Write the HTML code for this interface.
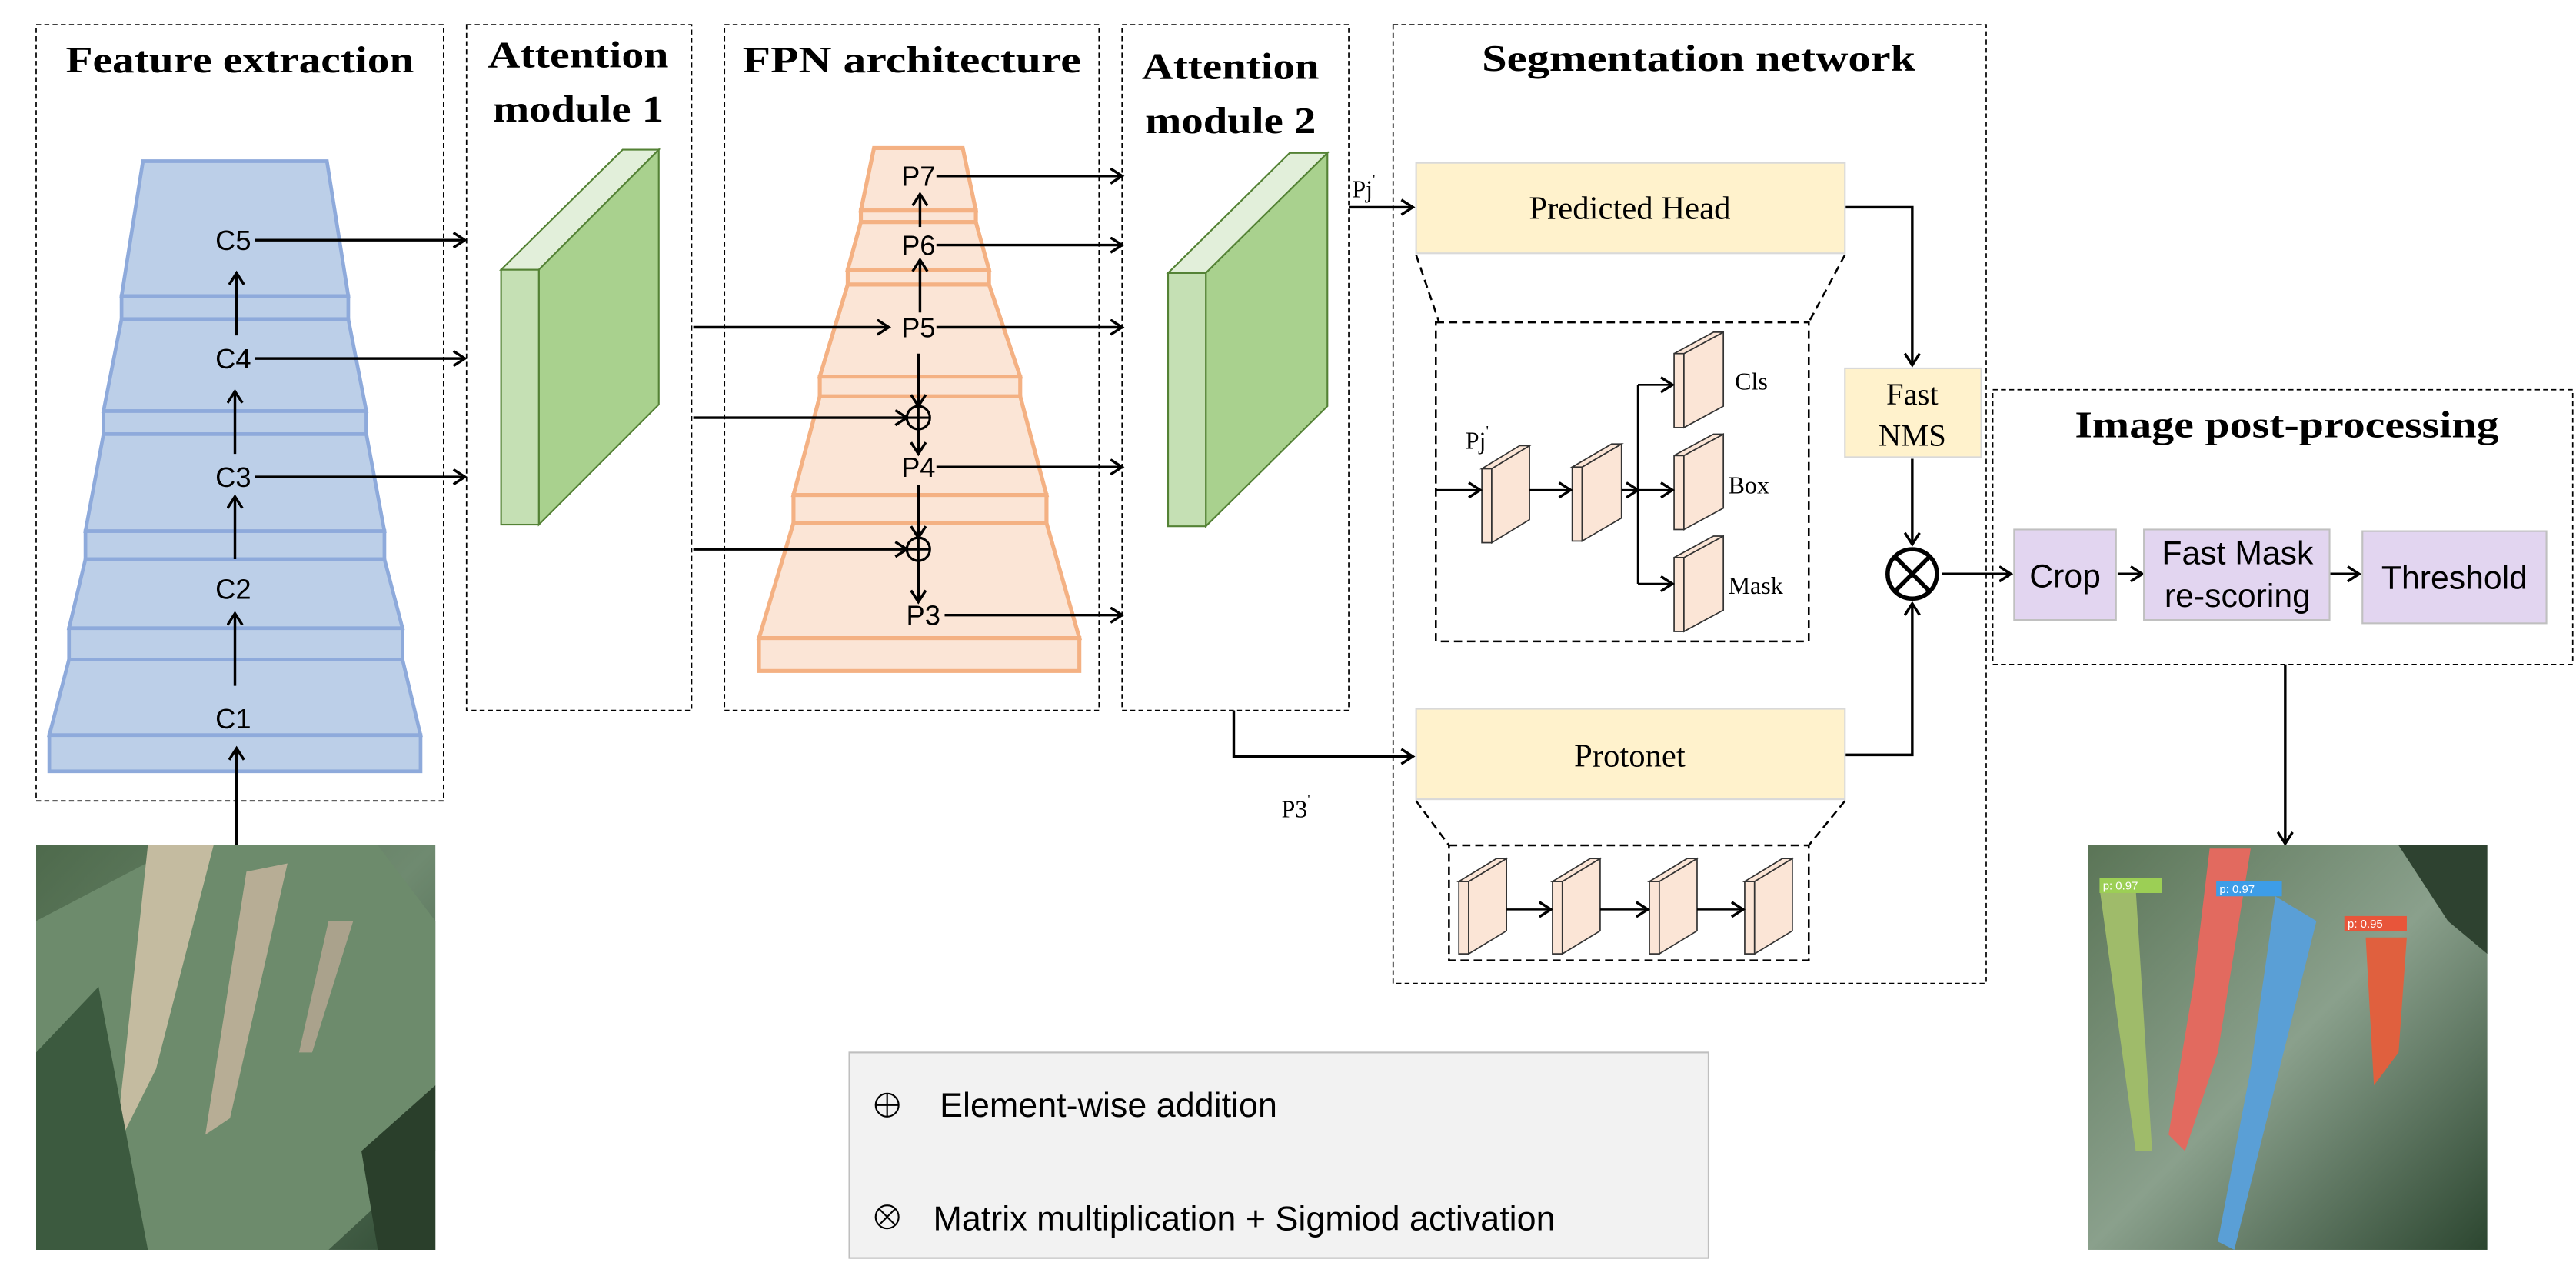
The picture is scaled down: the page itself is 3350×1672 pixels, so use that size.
<!DOCTYPE html>
<html><head><meta charset="utf-8"><style>
html,body{margin:0;padding:0;background:#fff;}
svg{display:block;}
.ttl{font-family:"Liberation Serif",serif;font-weight:bold;font-size:23px;}
.cl{font-family:"Liberation Sans Narrow","Liberation Sans",sans-serif;font-size:17px;}
.sf{font-family:"Liberation Serif",serif;}
.ss{font-family:"Liberation Sans Narrow","Liberation Sans",sans-serif;}
</style></head><body>
<svg width="3350" height="1672" viewBox="0 0 1568 782" preserveAspectRatio="none" xmlns="http://www.w3.org/2000/svg">
<defs>
<marker id="a" markerUnits="userSpaceOnUse" markerWidth="12" markerHeight="12" refX="8" refY="5" orient="auto"><path d="M1,0.5 L8,5 L1,9.5" fill="none" stroke="#000" stroke-width="1.6"/></marker>
<linearGradient id="lg1" x1="0" y1="0" x2="1" y2="1"><stop offset="0" stop-color="#4e6a4c"/><stop offset="0.5" stop-color="#6f8a70"/><stop offset="1" stop-color="#2f4a33"/></linearGradient>
<linearGradient id="lg2" x1="0" y1="0" x2="1" y2="1"><stop offset="0" stop-color="#5b7557"/><stop offset="0.5" stop-color="#8aa08c"/><stop offset="1" stop-color="#2c4630"/></linearGradient>
</defs>

<!-- dashed module boxes -->
<g fill="none" stroke="#000" stroke-width="0.8" stroke-dasharray="3,2">
<rect x="22" y="15" width="248" height="472"/>
<rect x="284" y="15" width="137" height="417"/>
<rect x="441" y="15" width="228" height="417"/>
<rect x="683" y="15" width="138" height="417"/>
<rect x="848" y="15" width="361" height="583"/>
<rect x="1213" y="237" width="353" height="167"/>
</g>

<!-- titles -->
<text class="ttl" x="146" y="44" text-anchor="middle" textLength="212" lengthAdjust="spacingAndGlyphs">Feature extraction</text>
<text class="ttl" x="352" y="41" text-anchor="middle" textLength="110" lengthAdjust="spacingAndGlyphs">Attention</text>
<text class="ttl" x="352" y="74" text-anchor="middle" textLength="104" lengthAdjust="spacingAndGlyphs">module 1</text>
<text class="ttl" x="555" y="44" text-anchor="middle" textLength="206" lengthAdjust="spacingAndGlyphs">FPN architecture</text>
<text class="ttl" x="749" y="48" text-anchor="middle" textLength="108" lengthAdjust="spacingAndGlyphs">Attention</text>
<text class="ttl" x="749" y="81" text-anchor="middle" textLength="104" lengthAdjust="spacingAndGlyphs">module 2</text>
<text class="ttl" x="1034" y="43" text-anchor="middle" textLength="264" lengthAdjust="spacingAndGlyphs">Segmentation network</text>
<text class="ttl" x="1392" y="266" text-anchor="middle" textLength="258" lengthAdjust="spacingAndGlyphs">Image post-processing</text>

<!-- blue pyramid -->
<g fill="#bccfe8" stroke="#8eaadb" stroke-width="2.2">
<polygon points="87,98 199,98 212,180 74,180"/><rect x="74" y="180" width="138" height="14"/>
<polygon points="74,194 212,194 223,250 63,250"/><rect x="63" y="250" width="160" height="14"/>
<polygon points="63,264 223,264 234,323 52,323"/><rect x="52" y="323" width="182" height="17"/>
<polygon points="52,340 234,340 245,382 42,382"/><rect x="42" y="382" width="203" height="19"/>
<polygon points="42,401 245,401 256,447 30,447"/><rect x="30" y="447" width="226" height="22"/>
</g>
<g class="cl" text-anchor="middle">
<text x="142" y="152">C5</text><text x="142" y="224">C4</text><text x="142" y="296">C3</text><text x="142" y="364">C2</text><text x="142" y="443">C1</text>
</g>
<g stroke="#000" stroke-width="1.6" fill="none" marker-end="url(#a)">
<line x1="144" y1="514" x2="144" y2="455"/>
<line x1="143" y1="417" x2="143" y2="373"/>
<line x1="143" y1="340" x2="143" y2="302"/>
<line x1="143" y1="276" x2="143" y2="238"/>
<line x1="144" y1="204" x2="144" y2="166"/>
<line x1="155" y1="146" x2="283" y2="146"/>
<line x1="155" y1="218" x2="283" y2="218"/>
<line x1="155" y1="290" x2="283" y2="290"/>
</g>

<!-- attention blocks -->
<g stroke="#548235" stroke-width="1">
<polygon points="305,164 379,91 401,91 328,164" fill="#e2efda"/>
<polygon points="328,164 401,91 401,246 328,319" fill="#a9d18e"/>
<rect x="305" y="164" width="23" height="155" fill="#c5e0b4"/>
<polygon points="711,166 785,93 808,93 734,166" fill="#e2efda"/>
<polygon points="734,166 808,93 808,247 734,320" fill="#a9d18e"/>
<rect x="711" y="166" width="23" height="154" fill="#c5e0b4"/>
</g>

<!-- orange pyramid -->
<g fill="#fbe5d6" stroke="#f4b183" stroke-width="2.4">
<polygon points="532,90 586,90 594,128 524,128"/><rect x="524" y="128" width="70" height="7"/>
<polygon points="524,135 594,135 602,164 516,164"/><rect x="516" y="164" width="86" height="9"/>
<polygon points="516,173 602,173 621,229 499,229"/><rect x="499" y="229" width="122" height="12"/>
<polygon points="499,241 621,241 637,301 483,301"/><rect x="483" y="301" width="154" height="17"/>
<polygon points="483,318 637,318 657,388 462,388"/><rect x="462" y="388" width="195" height="20"/>
</g>
<g class="cl" text-anchor="middle">
<text x="559" y="113">P7</text><text x="559" y="155">P6</text><text x="559" y="205">P5</text><text x="559" y="290">P4</text><text x="562" y="380">P3</text>
</g>
<g fill="none" stroke="#000" stroke-width="1.5">
<circle cx="559" cy="254" r="7"/><line x1="552" y1="254" x2="566" y2="254"/><line x1="559" y1="247" x2="559" y2="261"/>
<circle cx="559" cy="334" r="7"/><line x1="552" y1="334" x2="566" y2="334"/><line x1="559" y1="327" x2="559" y2="341"/>
</g>
<g stroke="#000" stroke-width="1.6" fill="none" marker-end="url(#a)">
<line x1="570" y1="107" x2="683" y2="107"/>
<line x1="570" y1="149" x2="683" y2="149"/>
<line x1="570" y1="199" x2="683" y2="199"/>
<line x1="570" y1="284" x2="683" y2="284"/>
<line x1="575" y1="374" x2="683" y2="374"/>
<line x1="422" y1="199" x2="541" y2="199"/>
<line x1="422" y1="254" x2="552" y2="254"/>
<line x1="422" y1="334" x2="552" y2="334"/>
<line x1="560" y1="138" x2="560" y2="118"/>
<line x1="560" y1="190" x2="560" y2="158"/>
<line x1="559" y1="215" x2="559" y2="247"/>
<line x1="559" y1="261" x2="559" y2="276"/>
<line x1="559" y1="295" x2="559" y2="327"/>
<line x1="559" y1="341" x2="559" y2="366"/>
<line x1="821" y1="126" x2="860" y2="126"/>
<polyline points="751,432 751,460 860,460"/>
<polyline points="1123,126 1164,126 1164,222"/>
<line x1="1164" y1="279" x2="1164" y2="331"/>
<polyline points="1123,459 1164,459 1164,367"/>
<line x1="1182" y1="349" x2="1224" y2="349"/>
<line x1="1289" y1="349" x2="1304" y2="349"/>
<line x1="1418" y1="349" x2="1436" y2="349"/>
<line x1="1391" y1="404" x2="1391" y2="513"/>
</g>
<text class="sf" x="823" y="120" font-size="15">Pj<tspan font-size="9" dy="-8">'</tspan></text>
<text class="sf" x="780" y="497" font-size="15">P3<tspan font-size="9" dy="-8">'</tspan></text>

<!-- segmentation boxes -->
<g fill="#fff2cc" stroke="#d9d9d9" stroke-width="1">
<rect x="862" y="99" width="261" height="55"/>
<rect x="862" y="431" width="261" height="55"/>
<rect x="1123" y="224" width="83" height="54"/>
</g>
<text class="sf" x="992" y="133" font-size="20" text-anchor="middle">Predicted Head</text>
<text class="sf" x="992" y="466" font-size="20" text-anchor="middle">Protonet</text>
<text class="sf" x="1164" y="246" font-size="19" text-anchor="middle">Fast</text>
<text class="sf" x="1164" y="271" font-size="19" text-anchor="middle">NMS</text>
<g fill="none" stroke="#000" stroke-width="2.6">
<circle cx="1164" cy="349" r="15"/><line x1="1154" y1="339" x2="1174" y2="359"/><line x1="1174" y1="339" x2="1154" y2="359"/>
</g>

<!-- detail dashed boxes -->
<g fill="none" stroke="#000" stroke-width="1.2" stroke-dasharray="5,3">
<rect x="874" y="196" width="227" height="194"/>
<line x1="862" y1="155" x2="876" y2="196"/><line x1="1123" y1="155" x2="1101" y2="196"/>
<rect x="882" y="514" width="219" height="70"/>
<line x1="862" y1="487" x2="882" y2="514"/><line x1="1123" y1="487" x2="1101" y2="514"/>
</g>
<g fill="#fbe5d6" stroke="#333" stroke-width="0.8">
<rect x="902" y="285" width="6" height="45"/><polygon points="908,285 931,271 931,316 908,330"/><polygon points="902,285 925,271 931,271 908,285"/>
<rect x="957" y="284" width="6" height="45"/><polygon points="963,284 987,270 987,315 963,329"/><polygon points="957,284 981,270 987,270 963,284"/>
<rect x="1019" y="215" width="6" height="45"/><polygon points="1025,215 1049,202 1049,247 1025,260"/><polygon points="1019,215 1043,202 1049,202 1025,215"/>
<rect x="1019" y="277" width="6" height="45"/><polygon points="1025,277 1049,264 1049,309 1025,322"/><polygon points="1019,277 1043,264 1049,264 1025,277"/>
<rect x="1019" y="339" width="6" height="45"/><polygon points="1025,339 1049,326 1049,371 1025,384"/><polygon points="1019,339 1043,326 1049,326 1025,339"/>
<rect x="888" y="536" width="6" height="44"/><polygon points="894,536 917,522 917,566 894,580"/><polygon points="888,536 911,522 917,522 894,536"/>
<rect x="945" y="536" width="6" height="44"/><polygon points="951,536 974,522 974,566 951,580"/><polygon points="945,536 968,522 974,522 951,536"/>
<rect x="1004" y="536" width="6" height="44"/><polygon points="1010,536 1033,522 1033,566 1010,580"/><polygon points="1004,536 1027,522 1033,522 1010,536"/>
<rect x="1062" y="536" width="6" height="44"/><polygon points="1068,536 1091,522 1091,566 1068,580"/><polygon points="1062,536 1085,522 1091,522 1068,536"/>
</g>
<g stroke="#000" stroke-width="1.2" fill="none" marker-end="url(#a)">
<line x1="874" y1="298" x2="901" y2="298"/>
<line x1="931" y1="298" x2="956" y2="298"/>
<polyline points="987,298 997,298"/>
<polyline points="997,234 1018,234"/>
<polyline points="997,298 1018,298"/>
<polyline points="997,355 1018,355"/>
<line x1="917" y1="553" x2="944" y2="553"/>
<line x1="974" y1="553" x2="1003" y2="553"/>
<line x1="1033" y1="553" x2="1061" y2="553"/>
</g>
<line x1="997" y1="234" x2="997" y2="355" stroke="#000" stroke-width="1.2"/>
<text class="sf" x="892" y="273" font-size="15">Pj<tspan font-size="9" dy="-8">'</tspan></text>
<text class="sf" x="1056" y="237" font-size="15">Cls</text>
<text class="sf" x="1052" y="300" font-size="15">Box</text>
<text class="sf" x="1052" y="361" font-size="15">Mask</text>

<!-- post processing -->
<g fill="#e2d5f0" stroke="#c0c0c0" stroke-width="1">
<rect x="1226" y="322" width="62" height="55"/>
<rect x="1305" y="322" width="113" height="55"/>
<rect x="1438" y="323" width="112" height="56"/>
</g>
<g class="ss" font-size="20" text-anchor="middle">
<text x="1257" y="357">Crop</text>
<text x="1362" y="343">Fast Mask</text>
<text x="1362" y="369">re-scoring</text>
<text x="1494" y="358">Threshold</text>
</g>

<!-- left photo -->
<rect x="22" y="514" width="243" height="246" fill="url(#lg1)"/>
<polygon points="22,560 110,514 230,514 265,560 265,700 200,760 60,760 22,720" fill="#6d8b6c"/>
<polygon points="90,514 130,514 95,650 70,700" fill="#c4bba0"/>
<polygon points="150,530 175,525 140,680 125,690" fill="#b7ad95"/>
<polygon points="200,560 215,560 190,640 182,640" fill="#aaa28c"/>
<polygon points="22,640 60,600 90,760 22,760" fill="#3c5a3f"/>
<polygon points="220,700 265,660 265,760 230,760" fill="#2a3f2b"/>

<!-- right photo -->
<rect x="1271" y="514" width="243" height="246" fill="url(#lg2)"/>
<polygon points="1278,540 1300,540 1310,700 1300,700" fill="#9fbb6a"/>
<polygon points="1345,516 1370,516 1350,640 1330,700 1320,690 1335,600" fill="#e26a5f"/>
<polygon points="1385,545 1410,560 1380,680 1360,760 1350,755 1370,650" fill="#5a9fd6"/>
<polygon points="1440,570 1465,570 1460,640 1445,660" fill="#e0603e"/>
<polygon points="1460,514 1514,514 1514,580 1490,560" fill="#2e4230"/>
<rect x="1278" y="534" width="38" height="9" fill="#9ccf55"/>
<rect x="1349" y="536" width="40" height="9" fill="#3d9de8"/>
<rect x="1427" y="557" width="38" height="9" fill="#e8553a"/>
<g font-family="Liberation Sans,sans-serif" font-size="7" fill="#fff">
<text x="1280" y="541">p: 0.97</text><text x="1351" y="543">p: 0.97</text><text x="1429" y="564">p: 0.95</text>
</g>

<!-- legend -->
<rect x="517" y="640" width="523" height="125" fill="#f2f2f2" stroke="#bfbfbf" stroke-width="1"/>
<g fill="none" stroke="#000" stroke-width="1">
<circle cx="540" cy="672" r="7"/><line x1="533" y1="672" x2="547" y2="672"/><line x1="540" y1="665" x2="540" y2="679"/>
<circle cx="540" cy="740" r="7"/><line x1="535" y1="735" x2="545" y2="745"/><line x1="545" y1="735" x2="535" y2="745"/>
</g>
<g class="ss" font-size="21">
<text x="572" y="679">Element-wise addition</text>
<text x="568" y="748">Matrix multiplication + Sigmiod activation</text>
</g>
</svg>
</body></html>
